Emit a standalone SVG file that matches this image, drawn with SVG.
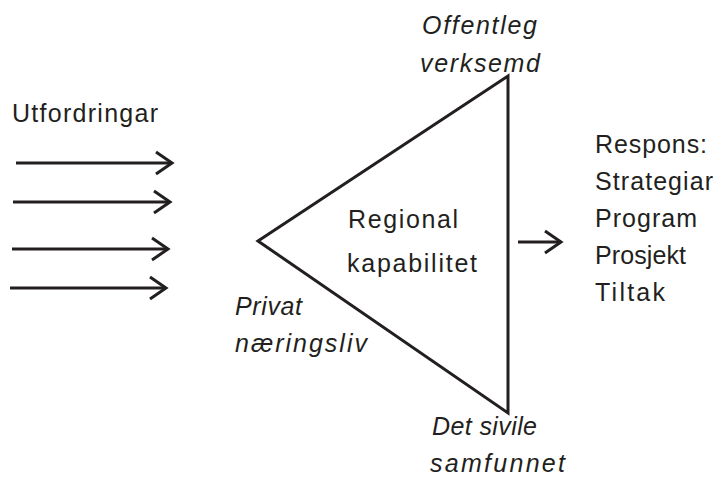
<svg xmlns="http://www.w3.org/2000/svg" width="718" height="478" viewBox="0 0 718 478">
  <style>
    .txt { font-family: "Liberation Sans", Arial, sans-serif; font-size: 25px; fill: #231f20; }
    .it { font-style: italic; }
    .ln { stroke: #231f20; stroke-width: 3; fill: none; }
  </style>
  <defs>
    <marker id="chev" viewBox="0 0 20 26" refX="17" refY="13" markerWidth="20" markerHeight="26" markerUnits="userSpaceOnUse" orient="auto">
      <path d="M1,2 L17,13 L1,24" fill="none" stroke="#231f20" stroke-width="3"/>
    </marker>
  </defs>
  <rect width="718" height="478" fill="#ffffff"/>

  <!-- incoming challenges -->
  <g id="challenges">
    <text class="txt" x="12" y="122" textLength="146" lengthAdjust="spacing">Utfordringar</text>
  </g>

  <!-- connectors -->
  <g id="connectors">
    <line class="ln" x1="16" y1="163" x2="172" y2="163" marker-end="url(#chev)"/>
    <line class="ln" x1="13" y1="202" x2="170" y2="202" marker-end="url(#chev)"/>
    <line class="ln" x1="12" y1="249" x2="168" y2="249" marker-end="url(#chev)"/>
    <line class="ln" x1="10" y1="288" x2="166" y2="288" marker-end="url(#chev)"/>
    <line class="ln" x1="518" y1="242" x2="561" y2="242" marker-end="url(#chev)"/>
  </g>

  <!-- capability triangle -->
  <g id="capability">
    <polygon class="ln" points="258,241 508,76 508,413"/>
    <text class="txt" x="348" y="228" textLength="110" lengthAdjust="spacing">Regional</text>
    <text class="txt" x="347" y="272" textLength="130" lengthAdjust="spacing">kapabilitet</text>
  </g>

  <!-- corner actors -->
  <g id="public">
    <text class="txt it" x="422" y="34" textLength="115" lengthAdjust="spacing">Offentleg</text>
    <text class="txt it" x="420" y="72" textLength="120" lengthAdjust="spacing">verksemd</text>
  </g>
  <g id="private">
    <text class="txt it" x="235" y="315" textLength="67" lengthAdjust="spacing">Privat</text>
    <text class="txt it" x="235" y="352" textLength="132" lengthAdjust="spacing">næringsliv</text>
  </g>
  <g id="civil">
    <text class="txt it" x="432" y="435" textLength="105" lengthAdjust="spacing">Det sivile</text>
    <text class="txt it" x="430" y="472" textLength="135" lengthAdjust="spacing">samfunnet</text>
  </g>

  <!-- response -->
  <g id="response">
    <text class="txt" x="595" y="153" textLength="112" lengthAdjust="spacing">Respons:</text>
    <text class="txt" x="595" y="190" textLength="118" lengthAdjust="spacing">Strategiar</text>
    <text class="txt" x="595" y="227" textLength="102" lengthAdjust="spacing">Program</text>
    <text class="txt" x="595" y="264" textLength="91" lengthAdjust="spacing">Prosjekt</text>
    <text class="txt" x="595" y="301" textLength="70" lengthAdjust="spacing">Tiltak</text>
  </g>
</svg>
